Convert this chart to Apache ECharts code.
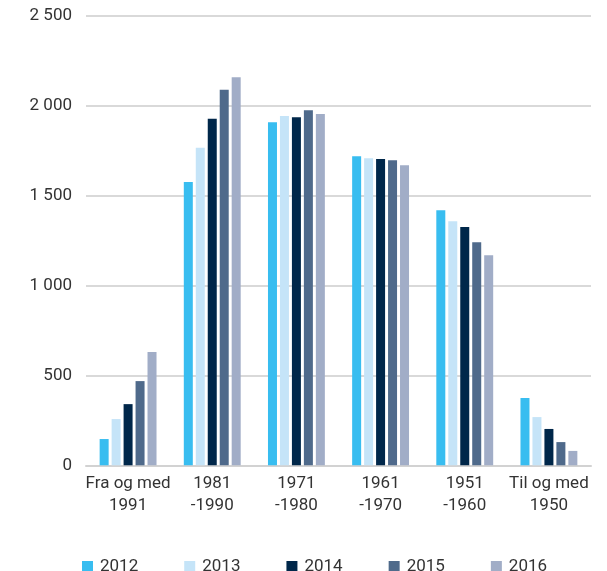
<!DOCTYPE html>
<html>
<head>
<meta charset="utf-8">
<script src="https://cdn.jsdelivr.net/npm/echarts@6/dist/echarts.min.js"></script>
<style>
  html, body { margin: 0; padding: 0; background: #fff; }
  #chart { width: 607px; height: 571px; }
</style>
</head>
<body>
<div id="chart"></div>
<script>
// kategorier (byggeår)
const categories = ["Fra og med\n1991", "1981\n-1990", "1971\n-1980", "1961\n-1970", "1951\n-1960", "Til og med\n1950"];
const years = ["2012", "2013", "2014", "2015", "2016"];
const colors = ["#38bdf0", "#c5e4f8", "#00274a", "#4f6a8b", "#a1adc7"];

// verdier per år, lest av figuren
const values2012 = [146, 1574, 1907, 1718, 1418, 374];
const values2013 = [257, 1765, 1942, 1707, 1357, 268];
const values2014 = [340, 1926, 1935, 1702, 1324, 202];
const values2015 = [468, 2087, 1974, 1696, 1240, 129];
const values2016 = [630, 2157, 1952, 1668, 1168, 80];
const seriesValues = [values2012, values2013, values2014, values2015, values2016];

const yTicks = { min: 0, max: 2500, interval: 500 };

const fontFamily = "Roboto";
const textColor = "#333333";

function formatThousands(v) {
  if (v < 1000) return String(v);
  return Math.floor(v / 1000) + " " + String(v % 1000).padStart(3, "0");
}

const chart = echarts.init(document.getElementById("chart"));

const option = {
  animation: false,
  backgroundColor: "#ffffff",
  textStyle: { fontFamily: fontFamily },
  grid: { left: 86, right: 16, top: 15.5, bottom: 105.7 },
  legend: {
    data: years,
    left: 77,
    top: 553,
    itemWidth: 11,
    itemHeight: 11,
    itemGap: 46,
    icon: "rect",
    textStyle: { fontFamily: fontFamily, fontSize: 17, color: textColor, padding: [0, 0, 0, 2] }
  },
  xAxis: {
    type: "category",
    data: categories,
    axisTick: { show: false },
    axisLine: { show: true, lineStyle: { color: "#d2d2d2", width: 2 } },
    axisLabel: {
      interval: 0,
      margin: 7,
      fontFamily: fontFamily,
      fontSize: 17,
      lineHeight: 22,
      color: textColor,
      align: "center"
    }
  },
  yAxis: {
    type: "value",
    min: yTicks.min,
    max: yTicks.max,
    interval: yTicks.interval,
    axisLine: { show: false },
    axisTick: { show: false },
    splitLine: { show: true, lineStyle: { color: "#cccccc", width: 1.5 } },
    axisLabel: {
      margin: 14,
      fontFamily: fontFamily,
      fontSize: 17,
      color: textColor,
      formatter: formatThousands
    }
  },
  series: years.map((y, i) => ({
    name: y,
    type: "bar",
    data: seriesValues[i],
    barWidth: 9,
    barGap: "33%",
    itemStyle: { color: colors[i] }
  }))
};

chart.setOption(option);
</script>
</body>
</html>
